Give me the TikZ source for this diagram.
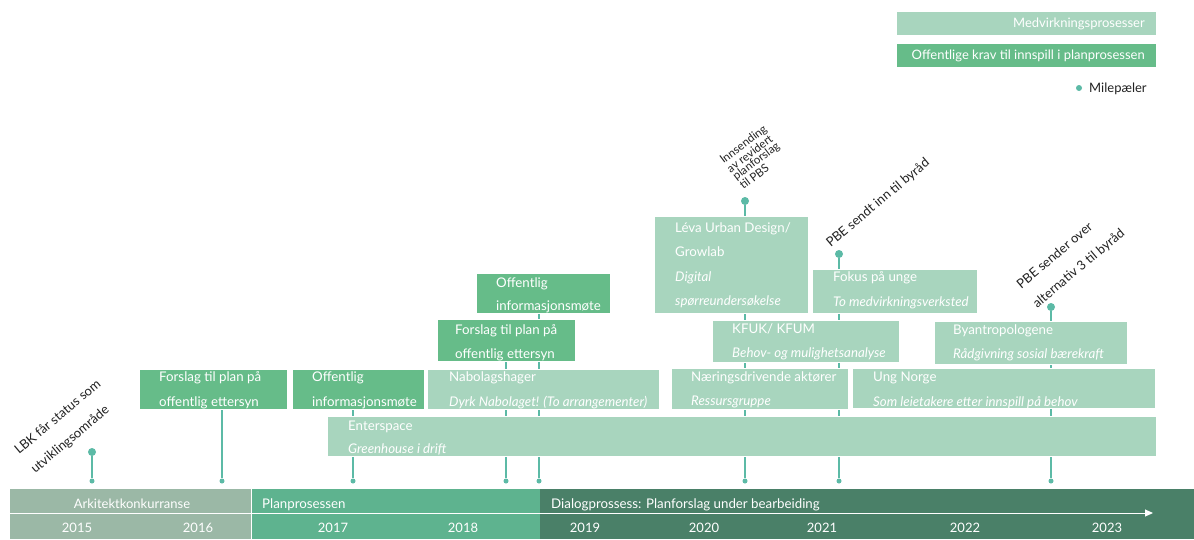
\documentclass[tikz,border=0pt]{standalone}
\usepackage{fontspec}
\setmainfont{Lato}
\usetikzlibrary{arrows.meta}
\definecolor{lightg}{HTML}{A8D5BE}
\definecolor{medg}{HTML}{66BC89}
\definecolor{dotc}{HTML}{5CBAA6}
\definecolor{secA}{HTML}{9BB8A6}
\definecolor{secB}{HTML}{5EB38F}
\definecolor{secC}{HTML}{4A8068}
\definecolor{ink}{HTML}{222222}
\begin{document}
\begin{tikzpicture}[x=1pt,y=-1pt,
  lbox/.style={fill=lightg, draw=white, line width=0.8pt, anchor=north west, inner sep=0pt, outer sep=0pt},
  mbox/.style={fill=medg, draw=white, line width=0.8pt, anchor=north west, inner sep=0pt, outer sep=0pt},
  bt/.style={anchor=base west, inner sep=0pt, text=white, font=\fontsize{13.3}{15}\selectfont},
  bi/.style={bt, font=\fontsize{13.3}{15}\selectfont\itshape},
  yr/.style={anchor=base, inner sep=0pt, text=white, font=\fontsize{13}{15}\selectfont},
  topdot/.style={circle, fill=dotc, inner sep=0pt, minimum size=8pt},
  botdot/.style={circle, fill=dotc, inner sep=0pt, minimum size=5pt},
  stem/.style={draw=dotc, line width=1.3pt},
  rot/.style={rotate=40, align=left, text=ink, inner sep=0pt, font=\fontsize{13}{25}\selectfont}]
\useasboundingbox (0,0) rectangle (1194,539);
\fill[white] (0,0) rectangle (1194,539);

% legend
\node[lbox, minimum width=260pt, minimum height=24pt] (leg1) at (896,11) {};
\node[mbox, minimum width=260pt, minimum height=24pt] (leg2) at (896,43) {};
\node[anchor=base east, inner sep=0pt, text=white, font=\fontsize{13}{15}\selectfont] at (1145,27.5) {Medvirkningsprosesser};
\node[anchor=base east, inner sep=0pt, text=white, font=\fontsize{13}{15}\selectfont] at (1145,59.5) {Offentlige krav til innspill i planprosessen};
\node[botdot, minimum size=6pt] (legdot) at (1079,88) {};
\node[anchor=base west, inner sep=0pt, text=ink, font=\fontsize{13}{15}\selectfont] at (1089,92.5) {Milepæler};

% milestone dots
\node[topdot] (t1) at (92,452) {};
\node[topdot] (t6) at (745,201) {};
\node[topdot] (t7) at (839,254) {};
\node[topdot] (t8) at (1051,307) {};
\node[botdot] (b1) at (92,481) {};
\node[botdot] (b2) at (222,481) {};
\node[botdot] (b3) at (353,481) {};
\node[botdot] (b4) at (506,481) {};
\node[botdot] (b5) at (539,481) {};
\node[botdot] (b6) at (745,481) {};
\node[botdot] (b7) at (839,481) {};
\node[botdot] (b8) at (1051,481) {};
\coordinate (c2) at (222,409);
\coordinate (c3) at (353,409);
\coordinate (c4) at (506,361);
\coordinate (c5) at (539,313);

% stems (behind boxes)
\draw[stem] (t1) -- (b1);
\draw[stem] (c2) -- (b2);
\draw[stem] (c3) -- (b3);
\draw[stem] (c4) -- (b4);
\draw[stem] (c5) -- (b5);
\draw[stem] (t6) -- (b6);
\draw[stem] (t7) -- (b7);
\draw[stem] (t8) -- (b8);

% boxes
\node[mbox, minimum width=148pt, minimum height=40pt] (forslagA) at (139,369) {};
\node[mbox, minimum width=132pt, minimum height=40pt] (offA) at (292,369) {};
\node[lbox, minimum width=829pt, minimum height=40pt] (enter) at (327,416) {};
\node[lbox, minimum width=232pt, minimum height=40pt] (nabo) at (427,369) {};
\node[mbox, minimum width=138pt, minimum height=42pt] (forslagB) at (437,319) {};
\node[mbox, minimum width=134pt, minimum height=40pt] (offB) at (476,273) {};
\node[lbox, minimum width=154pt, minimum height=97pt] (leva) at (654,216) {};
\node[lbox, minimum width=165pt, minimum height=44pt] (fokus) at (812,269) {};
\node[lbox, minimum width=187pt, minimum height=42pt] (kfuk) at (712,320) {};
\node[lbox, minimum width=177pt, minimum height=41pt] (naer) at (671,368) {};
\node[lbox, minimum width=303pt, minimum height=40pt] (ung) at (852,368) {};
\node[lbox, minimum width=193pt, minimum height=43pt] (byan) at (934,321) {};

% box texts
\node[bt] at (159,381.5) {Forslag til plan på};
\node[bt] at (159,406.5) {offentlig ettersyn};
\node[bt] at (312,381.5) {Offentlig};
\node[bt] at (312,406.5) {informasjonsmøte};
\node[bt] at (348,430.5) {Enterspace};
\node[bi] at (348,453.5) {Greenhouse i drift};
\node[bt] at (449,381.5) {Nabolagshager};
\node[bi] at (449,406.5) {Dyrk Nabolaget! (To arrangementer)};
\node[bt] at (455,334.5) {Forslag til plan på};
\node[bt] at (455,358.5) {offentlig ettersyn};
\node[bt] at (496,287.5) {Offentlig};
\node[bt] at (496,310.5) {informasjonsmøte};
\node[bt] at (675,232.5) {Léva Urban Design/};
\node[bt] at (675,256.5) {Growlab};
\node[bi] at (675,281.5) {Digital};
\node[bi] at (675,305.5) {spørreundersøkelse};
\node[bt] at (833,281.5) {Fokus på unge};
\node[bi] at (833,306.5) {To medvirkningsverksted};
\node[bt] at (732,333.5) {KFUK/ KFUM};
\node[bi] at (732,357.5) {Behov- og mulighetsanalyse};
\node[bt] at (691,381.5) {Næringsdrivende aktører};
\node[bi] at (691,405.5) {Ressursgruppe};
\node[bt] at (873,381.5) {Ung Norge};
\node[bi] at (873,406.5) {Som leietakere etter innspill på behov};
\node[bt] at (953,334.5) {Byantropologene};
\node[bi] at (953,358.5) {Rådgivning sosial bærekraft};

% rotated milestone labels
\node[rot] at (66,427) {LBK får status som\\utviklingsområde};
\node[rot, rotate=-3, font=\fontsize{11.5}{9.5}\selectfont] at (753,157) {Innsending\\av revidert\\planforslag\\til PBS};
\node[rot] at (878,203) {PBE sendt inn til byråd};
\node[rot] at (1071,259) {PBE sender over\\alternativ 3 til byråd};

% timeline bar
\fill[secA] (10,489) rectangle (251,539);
\fill[secB] (251,489) rectangle (540,539);
\fill[secC] (540,489) rectangle (1194,539);
\draw[white, line width=1pt] (251,489) -- (251,539);
\draw[white, line width=1pt] (10,513) -- (540,513);
\coordinate (arrS) at (540,513);
\coordinate (arrE) at (1153,513);
\draw[white, line width=1pt, -{Triangle[length=8pt,width=7pt]}] (arrS) -- (arrE);
\node[yr] at (132,508.5) {Arkitektkonkurranse};
\node[bt] at (262,508.5) {Planprosessen};
\node[bt] at (551,508.5) {Dialogprossess: Planforslag under bearbeiding};
\node[yr] at (77,532.5) {2015};
\node[yr] at (198,532.5) {2016};
\node[yr] at (333,532.5) {2017};
\node[yr] at (463,532.5) {2018};
\node[yr] at (585,532.5) {2019};
\node[yr] at (704,532.5) {2020};
\node[yr] at (822,532.5) {2021};
\node[yr] at (965,532.5) {2022};
\node[yr] at (1107,532.5) {2023};
\end{tikzpicture}
\end{document}
